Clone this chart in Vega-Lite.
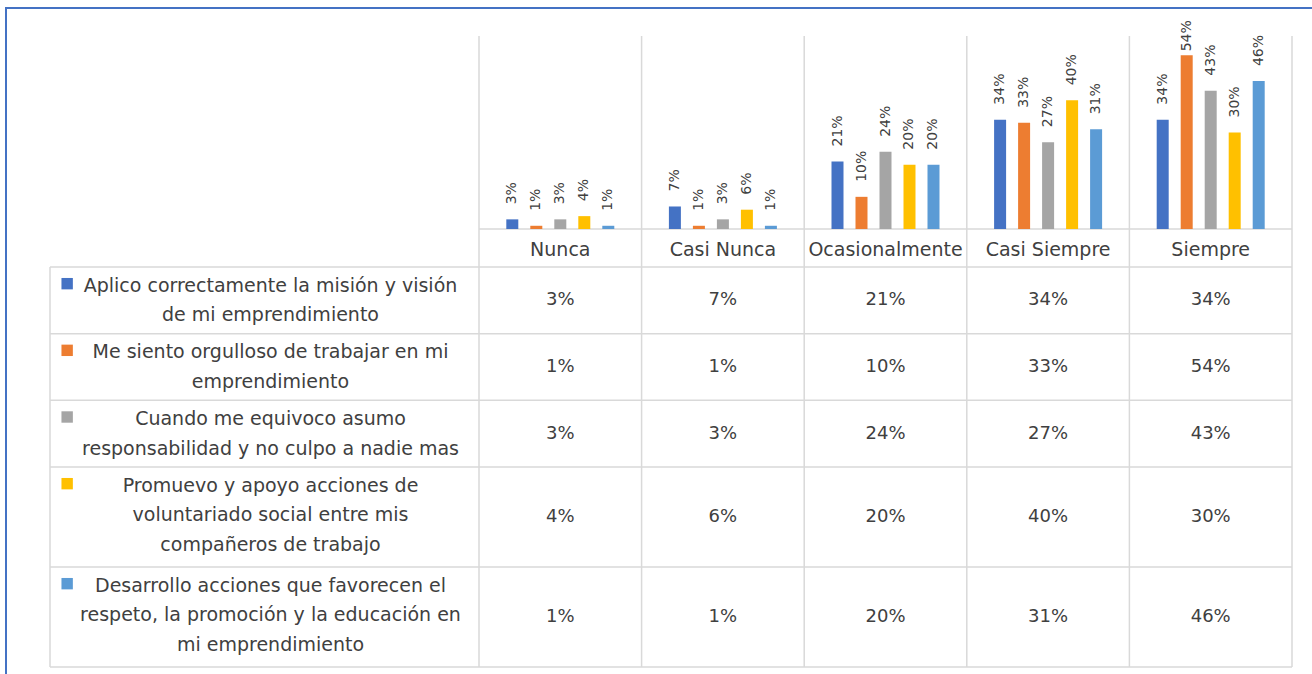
{
  "$schema": "https://vega.github.io/schema/vega-lite/v6.json",
  "width": 1307,
  "height": 667,
  "autosize": {"type": "none"},
  "padding": {"left": 6, "top": 8, "right": -1, "bottom": -1},
  "background": "white",
  "config": {"view": {"stroke": "#4472C4", "strokeWidth": 2}},
  "datasets": {
    "cats": [{"cat": "Nunca"}, {"cat": "Casi Nunca"}, {"cat": "Ocasionalmente"}, {"cat": "Casi Siempre"}, {"cat": "Siempre"}],
    "series": [
      {"serie": "Aplico correctamente la misión y visión de mi emprendimiento", "label": "Aplico correctamente la misión y visión\nde mi emprendimiento"},
      {"serie": "Me siento orgulloso de trabajar en mi emprendimiento", "label": "Me siento orgulloso de trabajar en mi\nemprendimiento"},
      {"serie": "Cuando me equivoco asumo responsabilidad y no culpo a nadie mas", "label": "Cuando me equivoco asumo\nresponsabilidad y no culpo a nadie mas"},
      {"serie": "Promuevo y apoyo acciones de voluntariado social entre mis compañeros de trabajo", "label": "Promuevo y apoyo acciones de\nvoluntariado social entre mis\ncompañeros de trabajo"},
      {"serie": "Desarrollo acciones que favorecen el respeto, la promoción y la educación en mi emprendimiento", "label": "Desarrollo acciones que favorecen el\nrespeto, la promoción y la educación en\nmi emprendimiento"}
    ],
    "vals": [
      {"cat": "Nunca", "serie": "Aplico correctamente la misión y visión de mi emprendimiento", "v": 0.03},
      {"cat": "Casi Nunca", "serie": "Aplico correctamente la misión y visión de mi emprendimiento", "v": 0.07},
      {"cat": "Ocasionalmente", "serie": "Aplico correctamente la misión y visión de mi emprendimiento", "v": 0.21},
      {"cat": "Casi Siempre", "serie": "Aplico correctamente la misión y visión de mi emprendimiento", "v": 0.34},
      {"cat": "Siempre", "serie": "Aplico correctamente la misión y visión de mi emprendimiento", "v": 0.34},
      {"cat": "Nunca", "serie": "Me siento orgulloso de trabajar en mi emprendimiento", "v": 0.01},
      {"cat": "Casi Nunca", "serie": "Me siento orgulloso de trabajar en mi emprendimiento", "v": 0.01},
      {"cat": "Ocasionalmente", "serie": "Me siento orgulloso de trabajar en mi emprendimiento", "v": 0.10},
      {"cat": "Casi Siempre", "serie": "Me siento orgulloso de trabajar en mi emprendimiento", "v": 0.33},
      {"cat": "Siempre", "serie": "Me siento orgulloso de trabajar en mi emprendimiento", "v": 0.54},
      {"cat": "Nunca", "serie": "Cuando me equivoco asumo responsabilidad y no culpo a nadie mas", "v": 0.03},
      {"cat": "Casi Nunca", "serie": "Cuando me equivoco asumo responsabilidad y no culpo a nadie mas", "v": 0.03},
      {"cat": "Ocasionalmente", "serie": "Cuando me equivoco asumo responsabilidad y no culpo a nadie mas", "v": 0.24},
      {"cat": "Casi Siempre", "serie": "Cuando me equivoco asumo responsabilidad y no culpo a nadie mas", "v": 0.27},
      {"cat": "Siempre", "serie": "Cuando me equivoco asumo responsabilidad y no culpo a nadie mas", "v": 0.43},
      {"cat": "Nunca", "serie": "Promuevo y apoyo acciones de voluntariado social entre mis compañeros de trabajo", "v": 0.04},
      {"cat": "Casi Nunca", "serie": "Promuevo y apoyo acciones de voluntariado social entre mis compañeros de trabajo", "v": 0.06},
      {"cat": "Ocasionalmente", "serie": "Promuevo y apoyo acciones de voluntariado social entre mis compañeros de trabajo", "v": 0.20},
      {"cat": "Casi Siempre", "serie": "Promuevo y apoyo acciones de voluntariado social entre mis compañeros de trabajo", "v": 0.40},
      {"cat": "Siempre", "serie": "Promuevo y apoyo acciones de voluntariado social entre mis compañeros de trabajo", "v": 0.30},
      {"cat": "Nunca", "serie": "Desarrollo acciones que favorecen el respeto, la promoción y la educación en mi emprendimiento", "v": 0.01},
      {"cat": "Casi Nunca", "serie": "Desarrollo acciones que favorecen el respeto, la promoción y la educación en mi emprendimiento", "v": 0.01},
      {"cat": "Ocasionalmente", "serie": "Desarrollo acciones que favorecen el respeto, la promoción y la educación en mi emprendimiento", "v": 0.20},
      {"cat": "Casi Siempre", "serie": "Desarrollo acciones que favorecen el respeto, la promoción y la educación en mi emprendimiento", "v": 0.31},
      {"cat": "Siempre", "serie": "Desarrollo acciones que favorecen el respeto, la promoción y la educación en mi emprendimiento", "v": 0.46}
    ]
  },
  "layer": [
    {
      "data": {"name": "cats"},
      "mark": {"type": "rule", "color": "#D9D9D9", "strokeWidth": 1.5},
      "encoding": {
        "x": {"field": "cat", "type": "nominal", "bandPosition": 0, "scale": {"type": "band", "domain": ["Nunca", "Casi Nunca", "Ocasionalmente", "Casi Siempre", "Siempre"], "range": [473, 1286], "paddingInner": 0, "paddingOuter": 0}, "axis": null},
        "y": {"datum": "top", "type": "nominal", "scale": {"type": "point", "domain": ["top", "bot"], "range": [28, 659], "padding": 0}, "axis": null},
        "y2": {"datum": "bot"}
      }
    },
    {
      "data": {"name": "cats"},
      "transform": [{"filter": "datum.cat === 'Siempre'"}],
      "mark": {"type": "rule", "color": "#D9D9D9", "strokeWidth": 1.5},
      "encoding": {
        "x": {"field": "cat", "type": "nominal", "bandPosition": 1, "scale": {"type": "band", "domain": ["Nunca", "Casi Nunca", "Ocasionalmente", "Casi Siempre", "Siempre"], "range": [473, 1286], "paddingInner": 0, "paddingOuter": 0}, "axis": null},
        "y": {"datum": "top", "type": "nominal", "scale": {"type": "point", "domain": ["top", "bot"], "range": [28, 659], "padding": 0}, "axis": null},
        "y2": {"datum": "bot"}
      }
    },
    {
      "data": {"values": [{}]},
      "mark": {"type": "rule", "color": "#D9D9D9", "strokeWidth": 1.5},
      "encoding": {
        "x": {"datum": "L", "type": "nominal", "scale": {"type": "point", "domain": ["L", "R"], "range": [44, 1286], "padding": 0}, "axis": null},
        "y": {"datum": "a", "type": "nominal", "scale": {"type": "point", "domain": ["a", "b"], "range": [259, 659], "padding": 0}, "axis": null},
        "y2": {"datum": "b"}
      }
    },
    {
      "data": {"values": [{}]},
      "mark": {"type": "rule", "color": "#D9D9D9", "strokeWidth": 1.5},
      "encoding": {
        "x": {"datum": "L", "type": "nominal", "scale": {"type": "point", "domain": ["L", "R"], "range": [44, 1286], "padding": 0}, "axis": null},
        "x2": {"datum": "R"},
        "y": {"datum": "a", "type": "nominal", "scale": {"type": "point", "domain": ["a", "b"], "range": [259, 659], "padding": 0}, "axis": null}
      }
    },
    {
      "data": {"name": "series"},
      "mark": {"type": "rule", "color": "#D9D9D9", "strokeWidth": 1.5},
      "encoding": {
        "x": {"datum": "L", "type": "nominal", "scale": {"type": "point", "domain": ["L", "R"], "range": [44, 1286], "padding": 0}, "axis": null},
        "x2": {"datum": "R"},
        "y": {"field": "serie", "type": "nominal", "bandPosition": 1, "scale": {"type": "band", "paddingInner": 0, "paddingOuter": 0, "range": [259, 659], "domain": ["b0", "b1", "b2", "Aplico correctamente la misión y visión de mi emprendimiento", "b4", "b5", "b6", "Me siento orgulloso de trabajar en mi emprendimiento", "b8", "b9", "b10", "Cuando me equivoco asumo responsabilidad y no culpo a nadie mas", "b12", "b13", "b14", "b15", "b16", "Promuevo y apoyo acciones de voluntariado social entre mis compañeros de trabajo", "b18", "b19", "b20", "b21", "b22", "Desarrollo acciones que favorecen el respeto, la promoción y la educación en mi emprendimiento"]}, "axis": null}
      }
    },
    {
      "data": {"values": [{}]},
      "mark": {"type": "rule", "color": "#D9D9D9", "strokeWidth": 1.5},
      "encoding": {
        "x": {"datum": "L", "type": "nominal", "scale": {"type": "point", "domain": ["L", "R"], "range": [473, 1286], "padding": 0}, "axis": null},
        "x2": {"datum": "R"},
        "y": {"datum": 0, "type": "quantitative", "scale": {"domain": [0, 0.6], "range": [221, 28], "nice": false}, "axis": null}
      }
    },
    {
      "data": {"name": "vals"},
      "mark": {"type": "bar"},
      "encoding": {
        "x": {"field": "cat", "type": "nominal", "scale": {"type": "band", "domain": ["Nunca", "Casi Nunca", "Ocasionalmente", "Casi Siempre", "Siempre"], "range": [473, 1286], "paddingInner": 0.262, "paddingOuter": 0.131}, "axis": null},
        "xOffset": {"field": "serie", "type": "nominal", "scale": {"domain": ["Aplico correctamente la misión y visión de mi emprendimiento", "Me siento orgulloso de trabajar en mi emprendimiento", "Cuando me equivoco asumo responsabilidad y no culpo a nadie mas", "Promuevo y apoyo acciones de voluntariado social entre mis compañeros de trabajo", "Desarrollo acciones que favorecen el respeto, la promoción y la educación en mi emprendimiento"], "paddingInner": 0.5, "paddingOuter": 0.25}},
        "y": {"field": "v", "type": "quantitative", "scale": {"domain": [0, 0.6], "range": [221, 28], "nice": false}, "axis": null},
        "color": {"field": "serie", "type": "nominal", "scale": {"domain": ["Aplico correctamente la misión y visión de mi emprendimiento", "Me siento orgulloso de trabajar en mi emprendimiento", "Cuando me equivoco asumo responsabilidad y no culpo a nadie mas", "Promuevo y apoyo acciones de voluntariado social entre mis compañeros de trabajo", "Desarrollo acciones que favorecen el respeto, la promoción y la educación en mi emprendimiento"], "range": ["#4472C4", "#ED7D31", "#A5A5A5", "#FFC000", "#5B9BD5"]}, "legend": null}
      }
    },
    {
      "data": {"name": "vals"},
      "transform": [{"filter": "datum.v < 0.5"}],
      "mark": {"type": "text", "angle": 270, "align": "left", "baseline": "middle", "dx": 15, "font": "DejaVu Sans", "fontSize": 14, "color": "#404040"},
      "encoding": {
        "x": {"field": "cat", "type": "nominal", "scale": {"type": "band", "domain": ["Nunca", "Casi Nunca", "Ocasionalmente", "Casi Siempre", "Siempre"], "range": [473, 1286], "paddingInner": 0.262, "paddingOuter": 0.131}, "axis": null},
        "xOffset": {"field": "serie", "type": "nominal", "scale": {"domain": ["Aplico correctamente la misión y visión de mi emprendimiento", "Me siento orgulloso de trabajar en mi emprendimiento", "Cuando me equivoco asumo responsabilidad y no culpo a nadie mas", "Promuevo y apoyo acciones de voluntariado social entre mis compañeros de trabajo", "Desarrollo acciones que favorecen el respeto, la promoción y la educación en mi emprendimiento"], "paddingInner": 0.5, "paddingOuter": 0.25}},
        "y": {"field": "v", "type": "quantitative", "scale": {"domain": [0, 0.6], "range": [221, 28], "nice": false}, "axis": null},
        "text": {"field": "v", "type": "quantitative", "format": ".0%"}
      }
    },
    {
      "data": {"name": "vals"},
      "transform": [{"filter": "datum.v >= 0.5"}],
      "mark": {"type": "text", "angle": 270, "align": "left", "baseline": "middle", "dx": 4, "font": "DejaVu Sans", "fontSize": 14, "color": "#404040"},
      "encoding": {
        "x": {"field": "cat", "type": "nominal", "scale": {"type": "band", "domain": ["Nunca", "Casi Nunca", "Ocasionalmente", "Casi Siempre", "Siempre"], "range": [473, 1286], "paddingInner": 0.262, "paddingOuter": 0.131}, "axis": null},
        "xOffset": {"field": "serie", "type": "nominal", "scale": {"domain": ["Aplico correctamente la misión y visión de mi emprendimiento", "Me siento orgulloso de trabajar en mi emprendimiento", "Cuando me equivoco asumo responsabilidad y no culpo a nadie mas", "Promuevo y apoyo acciones de voluntariado social entre mis compañeros de trabajo", "Desarrollo acciones que favorecen el respeto, la promoción y la educación en mi emprendimiento"], "paddingInner": 0.5, "paddingOuter": 0.25}},
        "y": {"field": "v", "type": "quantitative", "scale": {"domain": [0, 0.6], "range": [221, 28], "nice": false}, "axis": null},
        "text": {"field": "v", "type": "quantitative", "format": ".0%"}
      }
    },
    {
      "data": {"name": "cats"},
      "mark": {"type": "text", "align": "center", "baseline": "middle", "dy": 2, "font": "DejaVu Sans", "fontSize": 19, "color": "#404040"},
      "encoding": {
        "x": {"field": "cat", "type": "nominal", "scale": {"type": "band", "domain": ["Nunca", "Casi Nunca", "Ocasionalmente", "Casi Siempre", "Siempre"], "range": [473, 1286], "paddingInner": 0.262, "paddingOuter": 0.131}, "axis": null},
        "y": {"datum": "hdr", "type": "nominal", "scale": {"type": "band", "domain": ["hdr"], "range": [221, 259], "paddingInner": 0, "paddingOuter": 0}, "axis": null},
        "text": {"field": "cat", "type": "nominal"}
      }
    },
    {
      "data": {"name": "vals"},
      "mark": {"type": "text", "align": "center", "baseline": "middle", "font": "DejaVu Sans", "fontSize": 18, "color": "#404040"},
      "encoding": {
        "x": {"field": "cat", "type": "nominal", "scale": {"type": "band", "domain": ["Nunca", "Casi Nunca", "Ocasionalmente", "Casi Siempre", "Siempre"], "range": [473, 1286], "paddingInner": 0.262, "paddingOuter": 0.131}, "axis": null},
        "y": {"field": "serie", "type": "nominal", "bandPosition": 1, "scale": {"type": "band", "paddingInner": 0, "paddingOuter": 0, "range": [259, 659], "domain": ["c0", "Aplico correctamente la misión y visión de mi emprendimiento", "c2", "c3", "c4", "Me siento orgulloso de trabajar en mi emprendimiento", "c6", "c7", "c8", "Cuando me equivoco asumo responsabilidad y no culpo a nadie mas", "c10", "c11", "c12", "c13", "Promuevo y apoyo acciones de voluntariado social entre mis compañeros de trabajo", "c15", "c16", "c17", "c18", "c19", "Desarrollo acciones que favorecen el respeto, la promoción y la educación en mi emprendimiento", "c21", "c22", "c23"]}, "axis": null},
        "text": {"field": "v", "type": "quantitative", "format": ".0%"}
      }
    },
    {
      "data": {"name": "series"},
      "mark": {"type": "text", "align": "center", "baseline": "middle", "lineBreak": "\n", "lineHeight": 29.5, "dx": 6, "dy": 2, "font": "DejaVu Sans", "fontSize": 19, "color": "#404040"},
      "encoding": {
        "x": {"datum": "lbl", "type": "nominal", "scale": {"type": "band", "domain": ["lbl"], "range": [44, 473], "paddingInner": 0, "paddingOuter": 0}, "axis": null},
        "y": {"field": "serie", "type": "nominal", "bandPosition": 1, "scale": {"type": "band", "paddingInner": 0, "paddingOuter": 0, "range": [259, 659], "domain": ["Aplico correctamente la misión y visión de mi emprendimiento", "f1", "f2", "f3", "Me siento orgulloso de trabajar en mi emprendimiento", "f5", "f6", "f7", "Cuando me equivoco asumo responsabilidad y no culpo a nadie mas", "f9", "f10", "f11", "Promuevo y apoyo acciones de voluntariado social entre mis compañeros de trabajo", "f13", "f14", "f15", "f16", "f17", "Desarrollo acciones que favorecen el respeto, la promoción y la educación en mi emprendimiento", "f19", "f20", "f21", "f22", "f23"]}, "axis": null},
        "text": {"field": "label", "type": "nominal"}
      }
    },
    {
      "data": {"name": "series"},
      "mark": {"type": "square", "size": 130, "filled": true, "opacity": 1},
      "encoding": {
        "x": {"datum": "lbl", "type": "nominal", "bandPosition": 0.04, "scale": {"type": "band", "domain": ["lbl"], "range": [44, 473], "paddingInner": 0, "paddingOuter": 0}, "axis": null},
        "y": {"field": "serie", "type": "nominal", "bandPosition": 1, "scale": {"type": "band", "paddingInner": 0, "paddingOuter": 0, "range": [259, 659], "domain": ["Aplico correctamente la misión y visión de mi emprendimiento", "f1", "f2", "f3", "Me siento orgulloso de trabajar en mi emprendimiento", "f5", "f6", "f7", "Cuando me equivoco asumo responsabilidad y no culpo a nadie mas", "f9", "f10", "f11", "Promuevo y apoyo acciones de voluntariado social entre mis compañeros de trabajo", "f13", "f14", "f15", "f16", "f17", "Desarrollo acciones que favorecen el respeto, la promoción y la educación en mi emprendimiento", "f19", "f20", "f21", "f22", "f23"]}, "axis": null},
        "color": {"field": "serie", "type": "nominal", "scale": {"domain": ["Aplico correctamente la misión y visión de mi emprendimiento", "Me siento orgulloso de trabajar en mi emprendimiento", "Cuando me equivoco asumo responsabilidad y no culpo a nadie mas", "Promuevo y apoyo acciones de voluntariado social entre mis compañeros de trabajo", "Desarrollo acciones que favorecen el respeto, la promoción y la educación en mi emprendimiento"], "range": ["#4472C4", "#ED7D31", "#A5A5A5", "#FFC000", "#5B9BD5"]}, "legend": null}
      }
    }
  ],
  "resolve": {"scale": {"x": "independent", "y": "independent"}}
}
